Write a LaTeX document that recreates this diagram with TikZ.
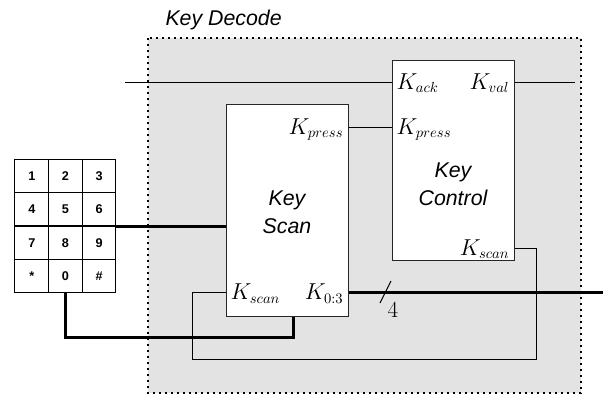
\documentclass[tikz,border=0pt]{standalone}
\usepackage{fontspec}
\setsansfont{Liberation Sans}
\usetikzlibrary{positioning}
\definecolor{decofill}{RGB}{227,227,227}
\tikzset{every picture/.style={line width=0.75pt}}
\tikzset{
	blk/.style={draw=black!85, fill=white, minimum width=91.5pt, inner sep=0pt},
	port/.style={font=\fontsize{16}{20}\selectfont, inner sep=3.5pt, text height=10.9pt, text depth=0pt},
	title/.style={font=\fontsize{16}{21}\selectfont\sffamily\itshape, align=center},
	keycell/.style={draw, minimum width=25.25pt, minimum height=25.1pt, inner sep=0pt, font=\fontsize{9.5}{11}\selectfont\sffamily\bfseries},
	bus/.style={line width=2.25pt}}

\begin{document}
\begin{tikzpicture}[x=0.75pt,y=0.75pt,yscale=-1,xscale=1]
	\useasboundingbox (0,0) rectangle (612,405);

	%Shape: Rectangle [Key Decode]
	\draw [fill=decofill, line width=1pt, dash pattern=on 1.5pt off 3pt] (148,38) rectangle (581,393);
	% Text Node
	\node [title, anchor=west, inner sep=0pt] (dectitle) at (165,20) {Key Decode};

	%Shape: Keypad (k0 ... k11, row by row)
	\foreach \k [count=\i from 0] in {1,2,3,4,5,6,7,8,9,*,0,\#} {
		\pgfmathtruncatemacro{\col}{mod(\i,3)}
		\pgfmathtruncatemacro{\row}{div(\i,3)}
		\node [keycell] (k\i) at (31.8+33.67*\col, 175.75+33.5*\row) {\k};
	}

	%Shape: Rectangle [Key Scan]
	\node [blk, minimum height=159pt] (scan) at (287,210) {};
	%Shape: Rectangle [Key Control]
	\node [blk, minimum height=150pt] (ctrl) at (453,160) {};

	% Text Node
	\node [title] (scantxt) at (287,212) {Key\\Scan};
	% Text Node
	\node [title] (ctrltxt) at (453,184) {Key\\Control};

	% Ports
	\node [port, anchor=west] (cack) at (ctrl.west |- 0,82) {$K_{ack}$};
	\node [port, anchor=east] (cval) at (ctrl.east |- 0,82) {$K_{val}$};
	\node [port, anchor=west] (cpress) at (ctrl.west |- 0,127) {$K_{press}$};
	\node [port, anchor=east] (cscan) at (ctrl.east |- 0,248) {$K_{scan}$};
	\node [port, anchor=east] (spress) at (scan.east |- 0,127) {$K_{press}$};
	\node [port, anchor=west] (sscan) at (scan.west |- 0,292.5) {$K_{scan}$};
	\node [port, anchor=east] (skey) at (scan.east |- 0,292.5) {$K_{0:3}$};

	% Free ends and bends
	\coordinate (ackfree) at (125,82);
	\coordinate (valfree) at (575,82);
	\coordinate (busfree) at (603,292.5);
	\coordinate (loopbl) at (192,359);
	\coordinate (loopbr) at (536,359);
	\coordinate (kbus) at ([xshift=4.5pt]scan.south);

	%Straight Lines
	\draw (ackfree) -- (cack.west);
	\draw (cval.east) -- (valfree);
	\draw (spress.east) -- (cpress.west);
	\draw (sscan.west) -| (loopbl) -- (loopbr) |- (cscan.east);

	%Straight Lines [thick]
	\draw [bus] (k5.south east) -- (k5.south east -| scan.west);
	\draw [bus] (k10.south) |- (kbus |- 0,337) -- (kbus);
	\draw [bus] (skey.east) -- (busfree);

	%Straight Lines [bus width]
	\draw (391,281) -- (380,303);
	% Text Node
	\node [font=\fontsize{16}{20}\selectfont] (buswidth) at (393,310) {$4$};

\end{tikzpicture}
\end{document}
